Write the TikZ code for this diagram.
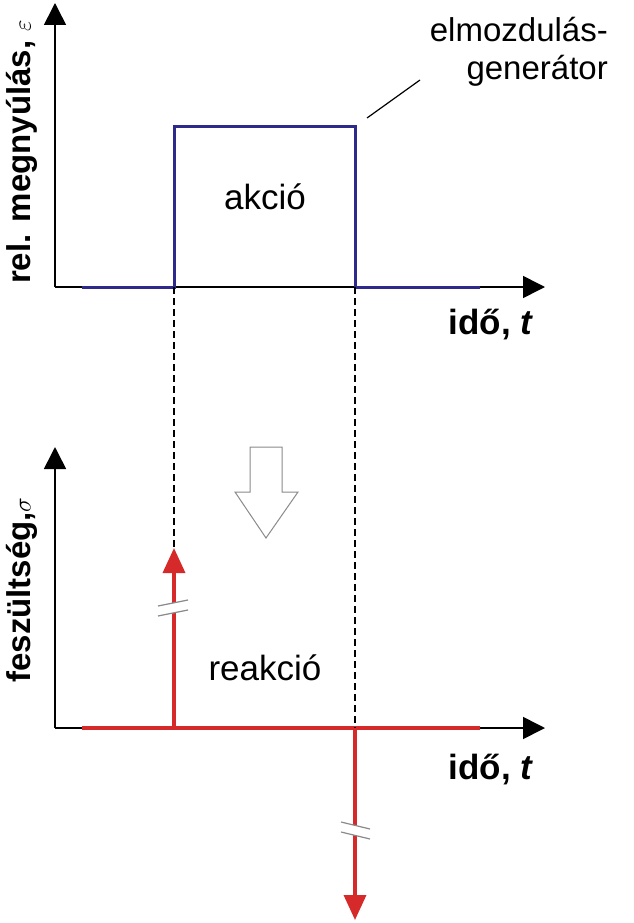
\documentclass[tikz,border=0pt]{standalone}
\usepackage{fontspec}
\setmainfont{Liberation Sans}
\usetikzlibrary{arrows.meta}
\definecolor{pulseblue}{HTML}{2E2A8C}
\definecolor{respred}{HTML}{D62A2A}
\definecolor{markgray}{HTML}{8A8A8A}

\begin{document}
\begin{tikzpicture}[x=1pt,y=-1pt,
  axis/.style={line width=1.6pt, -{Triangle[length=22pt,width=22pt]}},
  pulse/.style={pulseblue, line width=3pt},
  respline/.style={respred, line width=3.5pt},
  resparrow/.style={respred, line width=3.5pt, -{Triangle[length=25pt,width=22pt]}},
  guide/.style={line width=1.1pt, dash pattern=on 7pt off 4pt},
  breakgap/.style={fill=white, draw=none},
  breakline/.style={markgray, line width=1.2pt},
  txt/.style={font=\fontsize{33}{38}\selectfont, inner sep=0pt},
  bigtxt/.style={font=\fontsize{35}{40}\selectfont, inner sep=0pt},
  axtxt/.style={font=\fontsize{33}{38}\selectfont\bfseries, inner sep=0pt},
  timetxt/.style={font=\fontsize{35}{40}\selectfont\bfseries, inner sep=0pt}]
\useasboundingbox (0,0) rectangle (634,923);

% ---------- upper plot: imposed strain ----------
\coordinate (o1) at (55,287);
\coordinate (y1) at (55,3);
\coordinate (x1) at (545,287);
\draw[axis] (o1) -- (y1);
\draw[axis] (o1) -- (x1);

\coordinate (p0) at (82,287);
\coordinate (p1) at (174,287);
\coordinate (p2) at (174,127);
\coordinate (p3) at (355,127);
\coordinate (p4) at (355,287);
\coordinate (p5) at (480,287);
\draw[pulse, line join=miter] (p0) -- (p1) -- (p2) -- (p3) -- (p4) -- (p5);

\node[bigtxt] (akcio) at (265,197) {akció};
\node[timetxt] (t1) at (491,325) {idő, \textit{t}};
\node[axtxt, rotate=90] (eps) at (22,152) {rel. megnyúlás, $\varepsilon$};
\node[txt, align=right, anchor=east] (gen) at (608,52) {elmozdulás-\\generátor};
\coordinate (lead0) at (367,118);
\coordinate (lead1) at (420,80);
\draw[line width=1.2pt] (lead0) -- (lead1);

% ---------- lower plot: stress response ----------
\coordinate (o2) at (55,728);
\coordinate (y2) at (55,447);
\coordinate (x2) at (545,728);
\draw[axis] (o2) -- (y2);
\draw[axis] (o2) -- (x2);

\coordinate (r0) at (82,728);
\coordinate (r1) at (480,728);
\draw[respline] (r0) -- (r1);

\coordinate (up0) at (174,728);
\coordinate (uptip) at (174,548);
\coordinate (dn0) at (355,728);
\coordinate (dntip) at (355,920);

% vertical guides from the pulse edges
\draw[guide] (p1) -- (uptip);
\draw[guide] (p4) -- (dn0);

\draw[resparrow] (up0) -- (uptip);
\draw[resparrow] (dn0) -- (dntip);

% axis breaks on the impulses
\fill[breakgap] (158,606) -- (188,600) -- (188,610) -- (158,616) -- cycle;
\draw[breakline] (158,606) -- (188,600);
\draw[breakline] (158,616) -- (188,610);
\fill[breakgap] (341,822) -- (370,829) -- (370,839) -- (341,832) -- cycle;
\draw[breakline] (341,822) -- (370,829);
\draw[breakline] (341,832) -- (370,839);

\node[bigtxt] (reakcio) at (265,668) {reakció};
\node[timetxt] (t2) at (491,770) {idő, \textit{t}};
\node[axtxt, rotate=90] (sig) at (22,590) {feszültség,$\sigma$};

% hollow arrow from action to reaction
\draw[markgray, line width=1pt, fill=white, line join=miter]
  (250,447) -- (282,447) -- (282,492) -- (298,492) -- (266,538)
  -- (235,492) -- (250,492) -- cycle;
\end{tikzpicture}
\end{document}
